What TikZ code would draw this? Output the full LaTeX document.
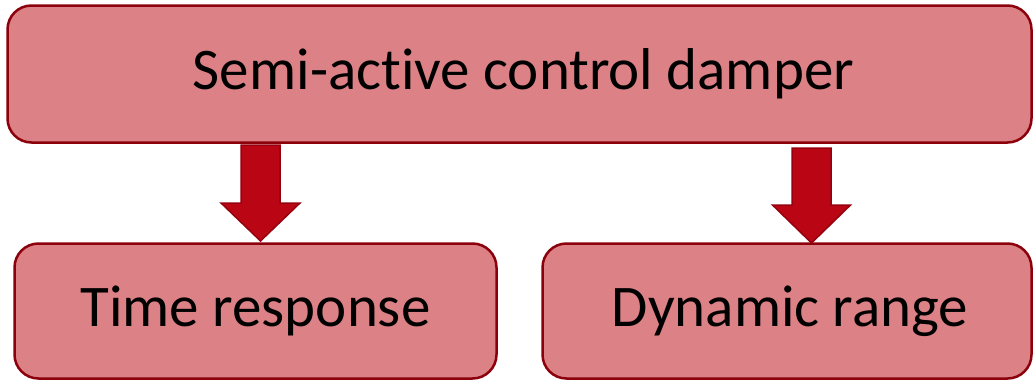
\documentclass[tikz,border=0pt]{standalone}
\usepackage{fontspec}
\setmainfont{Carlito}[Ligatures=NoCommon]
\definecolor{boxfill}{RGB}{220,129,133}
\definecolor{boxline}{RGB}{140,0,12}
\definecolor{arrfill}{RGB}{186,6,20}
\definecolor{arrline}{RGB}{150,0,15}
\begin{document}
\begin{tikzpicture}[x=1pt,y=-1pt,
  box/.style={draw=boxline, fill=boxfill, line width=2.5pt, rounded corners=24pt,
    inner sep=0pt, font=\fontsize{59}{62}\selectfont, text=black},
  blockarrow/.style={draw=arrline, fill=arrfill, line width=1.5pt, line join=miter}]
\useasboundingbox (0,0) rectangle (1033,380);
\node[box, minimum width=1024pt, minimum height=137pt] (top) at (519.5,74) {\hspace*{8pt}Semi-act\kern0pt ive control damper};
\node[box, minimum width=482pt, minimum height=135pt] (left) at (255.5,311) {Time response};
\node[box, minimum width=489pt, minimum height=135pt] (right) at (787,311) {\hspace*{6pt}Dynamic range};
% left arrow
\coordinate (la) at (260.5,145);
\coordinate (lb) at (260.5,241);
\draw[blockarrow] ([xshift=-19.5pt]la) -- ([xshift=19.5pt]la) -- ([xshift=19.5pt,yshift=-58pt]la)
  -- ([xshift=39.5pt,yshift=-58pt]la) -- (lb) -- ([xshift=-39.5pt,yshift=-58pt]la)
  -- ([xshift=-19.5pt,yshift=-58pt]la) -- cycle;
% right arrow
\coordinate (ra) at (811.5,148);
\coordinate (rb) at (811.5,243);
\draw[blockarrow] ([xshift=-19.5pt]ra) -- ([xshift=19.5pt]ra) -- ([xshift=19.5pt,yshift=-57pt]ra)
  -- ([xshift=39pt,yshift=-57pt]ra) -- (rb) -- ([xshift=-39pt,yshift=-57pt]ra)
  -- ([xshift=-19.5pt,yshift=-57pt]ra) -- cycle;
\end{tikzpicture}
\end{document}
